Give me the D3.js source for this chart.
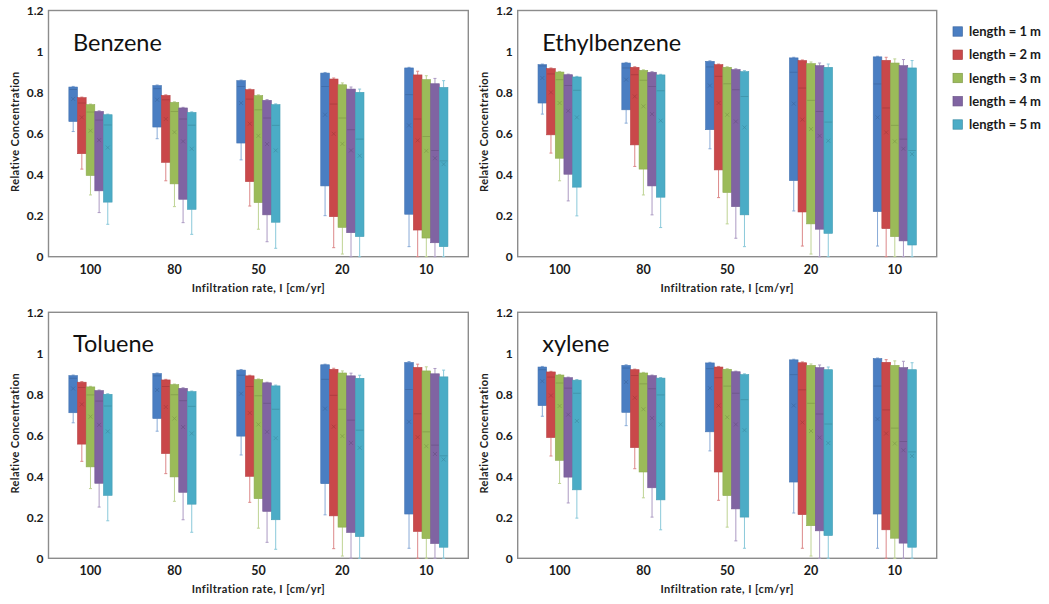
<!DOCTYPE html>
<html>
<head>
<meta charset="utf-8">
<script src="https://cdn.jsdelivr.net/npm/d3@7"></script>
<style>
  html, body { margin: 0; padding: 0; background: #fff; }
  svg { display: block; }
  text { font-family: Lato, "Liberation Sans", sans-serif; }
</style>
</head>
<body>
<svg id="chart" width="1049" height="604"></svg>
<script>
// ---------------- data ----------------
const categories = ["100", "80", "50", "20", "10"];
const seriesNames = ["length = 1 m", "length = 2 m", "length = 3 m", "length = 4 m", "length = 5 m"];
const seriesColors = ["#4a7ec2", "#c9484a", "#9bbb59", "#8064a2", "#4bacc6"];
const yTickValues = [0, 0.2, 0.4, 0.6, 0.8, 1, 1.2];
const yTickLabels = ["0", "0.2", "0.4", "0.6", "0.8", "1", "1.2"];
const chemicals = ["Benzene", "Ethylbenzene", "Toluene", "xylene"];
const xAxisTitle = "Infiltration rate, I [cm/yr]";
const yAxisTitle = "Relative Concentration";

// each entry: per category, per length -> [min, q1, median, mean, q3, max]
const benzene = [
  [[0.610,0.659,0.815,0.769,0.827,0.830],[0.427,0.502,0.749,0.679,0.775,0.778],[0.301,0.396,0.705,0.614,0.741,0.744],[0.215,0.321,0.666,0.568,0.708,0.711],[0.158,0.266,0.642,0.532,0.692,0.695]],
  [[0.575,0.632,0.819,0.765,0.834,0.837],[0.370,0.460,0.765,0.671,0.786,0.789],[0.244,0.355,0.708,0.607,0.752,0.755],[0.166,0.280,0.671,0.562,0.725,0.728],[0.109,0.231,0.641,0.526,0.703,0.706]],
  [[0.472,0.554,0.830,0.749,0.858,0.861],[0.247,0.366,0.768,0.648,0.814,0.817],[0.134,0.264,0.716,0.589,0.785,0.789],[0.073,0.204,0.676,0.549,0.762,0.766],[0.041,0.168,0.640,0.518,0.741,0.745]],
  [[0.200,0.345,0.830,0.692,0.895,0.898],[0.044,0.195,0.744,0.599,0.866,0.871],[0.013,0.143,0.676,0.550,0.838,0.847],[0.000,0.117,0.619,0.518,0.817,0.827],[0.000,0.098,0.573,0.492,0.801,0.817]],
  [[0.049,0.207,0.790,0.640,0.920,0.923],[0.000,0.130,0.671,0.567,0.886,0.904],[0.000,0.091,0.586,0.516,0.863,0.882],[0.000,0.068,0.518,0.480,0.843,0.869],[0.000,0.049,0.467,0.451,0.825,0.858]]
];
const ethylbenzene = [
  [[0.695,0.749,0.930,0.871,0.936,0.939],[0.505,0.594,0.891,0.801,0.917,0.920],[0.370,0.480,0.863,0.749,0.900,0.903],[0.272,0.402,0.834,0.711,0.887,0.890],[0.199,0.339,0.811,0.679,0.876,0.879]],
  [[0.651,0.716,0.920,0.863,0.944,0.947],[0.440,0.545,0.887,0.781,0.923,0.926],[0.301,0.427,0.860,0.733,0.908,0.911],[0.204,0.345,0.830,0.695,0.899,0.902],[0.142,0.290,0.809,0.663,0.886,0.889]],
  [[0.526,0.619,0.925,0.834,0.952,0.955],[0.288,0.423,0.879,0.749,0.936,0.939],[0.160,0.313,0.843,0.692,0.923,0.926],[0.090,0.244,0.814,0.659,0.912,0.916],[0.049,0.204,0.781,0.630,0.902,0.907]],
  [[0.223,0.371,0.899,0.746,0.969,0.972],[0.052,0.218,0.822,0.668,0.956,0.959],[0.013,0.160,0.762,0.622,0.941,0.949],[0.000,0.134,0.708,0.589,0.931,0.944],[0.000,0.114,0.656,0.565,0.923,0.939]],
  [[0.052,0.220,0.842,0.679,0.974,0.977],[0.000,0.137,0.725,0.606,0.957,0.972],[0.000,0.098,0.640,0.562,0.944,0.964],[0.000,0.077,0.573,0.526,0.931,0.961],[0.000,0.057,0.518,0.500,0.920,0.956]]
];
const toluene = [
  [[0.661,0.710,0.878,0.828,0.891,0.894],[0.473,0.557,0.833,0.751,0.859,0.862],[0.340,0.446,0.797,0.691,0.836,0.839],[0.250,0.366,0.767,0.651,0.818,0.821],[0.183,0.307,0.743,0.619,0.800,0.803]],
  [[0.620,0.682,0.890,0.821,0.901,0.904],[0.413,0.511,0.838,0.738,0.870,0.873],[0.278,0.397,0.798,0.682,0.847,0.850],[0.188,0.322,0.769,0.640,0.829,0.832],[0.127,0.264,0.741,0.609,0.813,0.816]],
  [[0.504,0.596,0.893,0.803,0.918,0.921],[0.273,0.400,0.838,0.709,0.890,0.893],[0.147,0.291,0.793,0.653,0.872,0.875],[0.078,0.229,0.756,0.617,0.856,0.859],[0.044,0.188,0.727,0.586,0.841,0.845]],
  [[0.212,0.364,0.873,0.730,0.944,0.947],[0.047,0.207,0.795,0.642,0.922,0.927],[0.011,0.152,0.727,0.596,0.904,0.914],[0.000,0.126,0.674,0.563,0.890,0.903],[0.000,0.106,0.625,0.539,0.878,0.893]],
  [[0.049,0.216,0.823,0.666,0.955,0.960],[0.000,0.131,0.705,0.591,0.931,0.947],[0.000,0.096,0.617,0.547,0.914,0.934],[0.000,0.072,0.552,0.509,0.900,0.926],[0.000,0.054,0.500,0.482,0.885,0.918]]
];
const xylene = [
  [[0.693,0.745,0.920,0.864,0.933,0.936],[0.499,0.589,0.884,0.794,0.909,0.912],[0.365,0.478,0.855,0.743,0.894,0.897],[0.270,0.396,0.830,0.701,0.881,0.884],[0.196,0.334,0.805,0.670,0.869,0.872]],
  [[0.647,0.712,0.928,0.860,0.941,0.944],[0.437,0.540,0.892,0.783,0.920,0.923],[0.295,0.421,0.851,0.727,0.904,0.907],[0.201,0.344,0.827,0.684,0.891,0.894],[0.139,0.285,0.797,0.653,0.879,0.882]],
  [[0.524,0.617,0.925,0.830,0.953,0.956],[0.283,0.421,0.881,0.745,0.933,0.936],[0.152,0.306,0.840,0.688,0.922,0.925],[0.085,0.241,0.805,0.653,0.910,0.913],[0.049,0.201,0.774,0.625,0.896,0.900]],
  [[0.221,0.372,0.896,0.745,0.968,0.971],[0.049,0.213,0.822,0.663,0.954,0.958],[0.011,0.159,0.756,0.621,0.941,0.948],[0.000,0.134,0.704,0.589,0.930,0.943],[0.000,0.111,0.655,0.562,0.920,0.933]],
  [[0.049,0.216,0.840,0.679,0.974,0.977],[0.000,0.139,0.724,0.609,0.956,0.969],[0.000,0.098,0.635,0.560,0.941,0.963],[0.000,0.074,0.570,0.527,0.930,0.961],[0.000,0.054,0.519,0.499,0.920,0.954]]
];
const chemicalData = [benzene, ethylbenzene, toluene, xylene];

// ---------------- layout ----------------
const panelBoxes = [
  { x0: 48.5, x1: 468.3, y0: 10.5, y1: 256.7 },
  { x0: 517.7, x1: 936.7, y0: 10.5, y1: 256.7 },
  { x0: 48.5, x1: 468.3, y0: 312.3, y1: 558.3 },
  { x0: 517.7, x1: 936.7, y0: 312.3, y1: 558.3 }
];

const svg = d3.select("#chart");

chemicals.forEach((name, pi) => {
  const P = panelBoxes[pi];
  const data = chemicalData[pi];
  const g = svg.append("g");

  const x = d3.scaleBand().domain(categories).range([P.x0, P.x1]).paddingInner(0).paddingOuter(0);
  const groupW = x.bandwidth() * 0.515;
  const xs = d3.scaleBand().domain(seriesNames).range([-groupW / 2, groupW / 2]).padding(0);
  const y = d3.scaleLinear().domain([0, 1.2]).range([P.y1, P.y0]);

  // frame
  g.append("rect")
    .attr("x", P.x0).attr("y", P.y0)
    .attr("width", P.x1 - P.x0).attr("height", P.y1 - P.y0)
    .attr("fill", "none").attr("stroke", "#8c8c8c").attr("stroke-width", 1.4);

  // y axis
  const yAxis = d3.axisLeft(y).tickValues(yTickValues)
    .tickFormat((d, i) => yTickLabels[i]).tickSize(0).tickPadding(5);
  const ya = g.append("g").attr("transform", `translate(${P.x0},0)`).call(yAxis);
  ya.select(".domain").remove();
  ya.selectAll("text").attr("font-size", 12).attr("font-weight", "bold")
    .attr("fill", "#1a1a1a").attr("font-family", "Lato, sans-serif");

  // x axis
  const xAxis = d3.axisBottom(x).tickSize(0).tickPadding(8);
  const xa = g.append("g").attr("transform", `translate(0,${P.y1})`).call(xAxis);
  xa.select(".domain").remove();
  xa.selectAll("text").attr("font-size", 12.5).attr("font-weight", "bold")
    .attr("fill", "#1a1a1a").attr("font-family", "Lato, sans-serif");

  // axis titles
  g.append("text")
    .attr("x", (P.x0 + P.x1) / 2).attr("y", P.y1 + 35)
    .attr("text-anchor", "middle").attr("font-size", 11).attr("font-weight", "bold")
    .attr("letter-spacing", 0.45)
    .attr("fill", "#222").text(xAxisTitle);
  g.append("text")
    .attr("transform", `translate(${P.x0 - 30},${(P.y0 + P.y1) / 2 - 2}) rotate(-90)`)
    .attr("text-anchor", "middle").attr("font-size", 11).attr("font-weight", "bold")
    .attr("letter-spacing", 0.4)
    .attr("fill", "#222").text(yAxisTitle);

  // panel title
  g.append("text")
    .attr("x", P.x0 + 24.5).attr("y", P.y0 + 40)
    .attr("font-size", 23.5).attr("fill", "#111")
    .attr("font-family", "Lato, sans-serif")
    .text(name);

  // boxes
  categories.forEach((cat, ci) => {
    const cx = x(cat) + x.bandwidth() / 2;
    seriesNames.forEach((sn, si) => {
      const [mn, q1, med, mean, q3, mx] = data[ci][si];
      const col = seriesColors[si];
      const dark = d3.color(col).darker(0.6).formatHex();
      const light = d3.interpolateRgb(col, "#ffffff")(0.35);
      const bx = cx + xs(sn);
      const bw = xs.bandwidth();
      const mid = bx + bw / 2;
      const bg = g.append("g");
      // whiskers
      bg.append("line").attr("x1", mid).attr("x2", mid)
        .attr("y1", y(q1)).attr("y2", y(mn))
        .attr("stroke", light).attr("stroke-width", 1);
      bg.append("line").attr("x1", mid - 1.5).attr("x2", mid + 1.5)
        .attr("y1", y(mn)).attr("y2", y(mn))
        .attr("stroke", light).attr("stroke-width", 1);
      bg.append("line").attr("x1", mid).attr("x2", mid)
        .attr("y1", y(q3)).attr("y2", y(mx))
        .attr("stroke", light).attr("stroke-width", 1);
      bg.append("line").attr("x1", mid - 1.5).attr("x2", mid + 1.5)
        .attr("y1", y(mx)).attr("y2", y(mx))
        .attr("stroke", light).attr("stroke-width", 1);
      // box
      bg.append("rect")
        .attr("x", bx).attr("y", y(q3))
        .attr("width", bw).attr("height", y(q1) - y(q3))
        .attr("fill", col)
        .attr("stroke", d3.color(col).darker(0.25).formatHex()).attr("stroke-width", 0.6);
      // median
      bg.append("line").attr("x1", bx + 0.5).attr("x2", bx + bw - 0.5)
        .attr("y1", y(med)).attr("y2", y(med))
        .attr("stroke", dark).attr("stroke-width", 0.8).attr("opacity", 0.8);
      // mean marker (x)
      const my = y(mean), r = 2;
      bg.append("path")
        .attr("d", `M${mid - r},${my - r}L${mid + r},${my + r}M${mid - r},${my + r}L${mid + r},${my - r}`)
        .attr("stroke", dark).attr("stroke-width", 0.8).attr("opacity", 0.8).attr("fill", "none");
    });
  });
});

// legend
const legend = svg.append("g").attr("transform", "translate(953,31.5)");
const ly = d3.scalePoint().domain(seriesNames).range([0, 93]);
seriesNames.forEach((sn, i) => {
  const row = legend.append("g").attr("transform", `translate(0,${ly(sn)})`);
  row.append("rect").attr("x", 0).attr("y", -4.7).attr("width", 9.4).attr("height", 9.4)
    .attr("fill", seriesColors[i]).attr("stroke", d3.color(seriesColors[i]).darker(0.5).formatHex())
    .attr("stroke-width", 0.7);
  row.append("text").attr("x", 16).attr("y", 0).attr("dy", "0.35em")
    .attr("font-size", 13).attr("font-weight", "bold").attr("fill", "#1a1a1a")
    .text(sn);
});
</script>
</body>
</html>
